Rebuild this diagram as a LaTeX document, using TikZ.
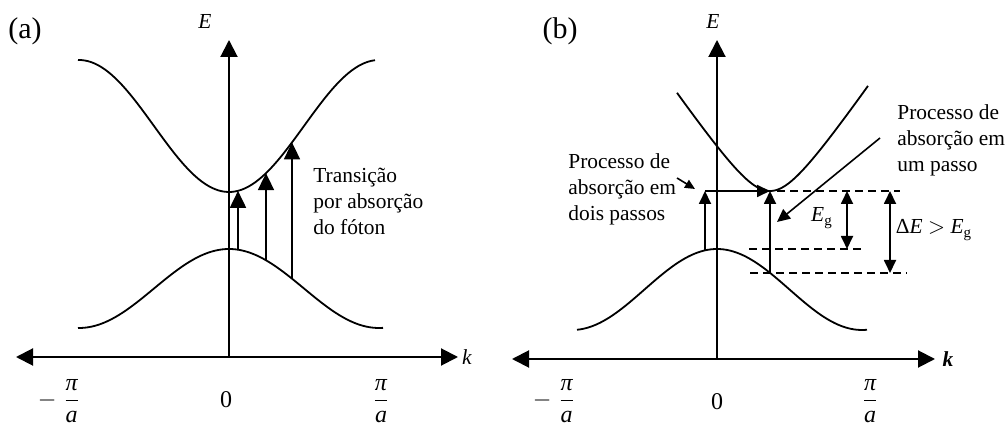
\documentclass[tikz,border=0pt]{standalone}
\usepackage{amsmath}
\usepackage{fontspec}
\setmainfont{Liberation Serif}
\usetikzlibrary{arrows.meta}

\begin{document}
\begin{tikzpicture}[x=0.5pt, y=-0.5pt, font=\fontsize{10.7}{13}\selectfont,
  kaxis/.style={{Triangle[length=8.5pt, width=8.5pt]}-{Triangle[length=8.5pt, width=8.5pt]}, line width=1pt},
  eaxis/.style={-{Triangle[length=8.5pt, width=8.5pt]}, line width=1pt},
  band/.style={line width=0.9pt},
  trans/.style={-{Triangle[length=8.5pt, width=8pt]}, line width=0.9pt},
  transb/.style={-{Triangle[length=6.5pt, width=6pt]}, line width=0.9pt},
  gapdim/.style={{Triangle[length=6.5pt, width=6pt]}-{Triangle[length=6.5pt, width=6pt]}, line width=0.9pt},
  gapline/.style={dash pattern=on 4pt off 2.5pt, line width=0.8pt},
  pointer/.style={-{Triangle[length=6.5pt, width=6pt]}, line width=0.8pt},
  txt/.style={anchor=west, align=left, inner sep=0pt},
  tag/.style={font=\fontsize{15}{17}\selectfont},
  ticklbl/.style={font=\fontsize{12}{14}\selectfont, inner sep=0pt}]
\useasboundingbox (0,0) rectangle (1006,426);

% ---- panel (a): axes ----------------------------------------------------
\coordinate (a-kl) at (16,357);
\coordinate (a-kr) at (458,357);
\coordinate (a-o) at (229,357);
\coordinate (a-et) at (229,40);
\draw[kaxis] (a-kl) -- (a-kr);
\draw[eaxis] (a-o) -- (a-et);

% ---- panel (a): bands ---------------------------------------------------
\draw[band] plot[domain=-151:146, samples=90] ({229+\x}, {126+66*cos(1.2*\x)});
\draw[band] plot[domain=-151:154, samples=90] ({229+\x}, {288.5-39.5*cos(1.2*\x)});

% ---- panel (a): direct transitions --------------------------------------
\foreach \n/\d in {1/9, 2/37, 3/63} {
  \coordinate (a-v\n) at ({229+\d}, {288.5-39.5*cos(1.2*\d)});
  \coordinate (a-c\n) at ({229+\d}, {126+66*cos(1.2*\d)});
  \draw[trans] (a-v\n) -- (a-c\n);
}

% ---- panel (a): labels --------------------------------------------------
\node (a-tag) [tag] at (25,31) {(a)};
\node (a-e) at (205,22) {\textit{E}};
\node (a-k) at (467,357) {\textit{k}};
\node (a-lo) [ticklbl] at (59,401) {$-\;\dfrac{\textit{π}}{\textit{a}}$};
\node (a-zero) [ticklbl] at (226,400) {0};
\node (a-hi) [ticklbl] at (381,401) {$\dfrac{\textit{π}}{\textit{a}}$};
\node (a-txt) [txt] at (313,201) {Transição\\por absorção\\do fóton};

% ---- panel (b): axes ----------------------------------------------------
\coordinate (b-kl) at (512,359);
\coordinate (b-kr) at (935,359);
\coordinate (b-o) at (717,359);
\coordinate (b-et) at (717,40);
\draw[kaxis] (b-kl) -- (b-kr);
\draw[eaxis] (b-o) -- (b-et);

% ---- panel (b): bands ---------------------------------------------------
\draw[band] plot[domain=-140:150, samples=90] ({717+\x}, {289.5-40.5*cos(1.2414*\x)});
\draw[band] plot[domain=-93:98, samples=90] ({770+\x}, {191-1.45*(sqrt(900+(\x)*(\x))-30)});

% ---- panel (b): two-step and one-step absorption ------------------------
\coordinate (b-v1) at (705, {289.5-40.5*cos(1.2414*(-12))});
\coordinate (b-c1) at (705,191);
\coordinate (b-m) at (770,191);
\coordinate (b-v2) at (770, {289.5-40.5*cos(1.2414*53)});
\draw[transb] (b-v1) -- (b-c1);
\draw[transb] (b-c1) -- (b-m);
\draw[transb] (b-v2) -- (b-m);

% ---- panel (b): energy levels -------------------------------------------
\coordinate (b-t1) at (777,191);
\coordinate (b-t2) at (900,191);
\coordinate (b-m1) at (749,249);
\coordinate (b-m2) at (861,249);
\coordinate (b-b1) at (750,273);
\coordinate (b-b2) at (907,273);
\draw[gapline] (b-t1) -- (b-t2);
\draw[gapline] (b-m1) -- (b-m2);
\draw[gapline] (b-b1) -- (b-b2);
\coordinate (b-g1) at (847,191);
\coordinate (b-g2) at (847,249);
\coordinate (b-d1) at (890,191);
\coordinate (b-d2) at (890,273);
\draw[gapdim] (b-g1) -- (b-g2);
\draw[gapdim] (b-d1) -- (b-d2);

% ---- panel (b): labels --------------------------------------------------
\node (b-tag) [tag] at (560,31) {(b)};
\node (b-e) at (713,22) {\textit{E}};
\node (b-k) at (948,359) {\textbf{\textit{k}}};
\node (b-lo) [ticklbl] at (554,401) {$-\;\dfrac{\textit{π}}{\textit{a}}$};
\node (b-zero) [ticklbl] at (717,402) {0};
\node (b-hi) [ticklbl] at (870,401) {$\dfrac{\textit{π}}{\textit{a}}$};
\node (b-eg) at (822,218) {$\textit{E}_\textrm{g}$};
\node (b-de) at (934,230) {Δ\textit{E} $>$ $\textit{E}_\textrm{g}$};
\node (b-two) [txt] at (568,189) {Processo de\\absorção em\\dois passos};
\node (b-one) [txt] at (897,140) {Processo de\\absorção em\\um passo};
\coordinate (b-p1) at (677,178);
\coordinate (b-p2) at (695,189);
\draw[pointer, -{Triangle[length=5pt, width=4.5pt]}] (b-p1) -- (b-p2);
\coordinate (b-q1) at (880,138);
\coordinate (b-q2) at (777,222);
\draw[pointer] (b-q1) -- (b-q2);
\end{tikzpicture}
\end{document}
